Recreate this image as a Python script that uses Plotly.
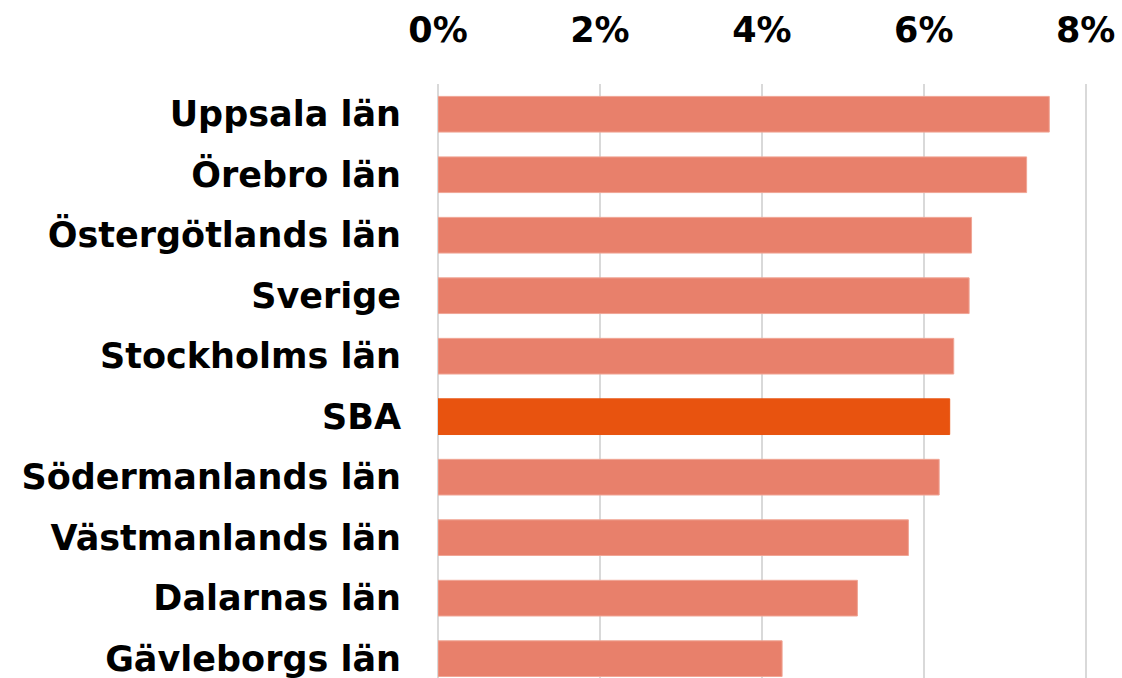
import plotly.graph_objects as go

categories = ["Uppsala län", "Örebro län", "Östergötlands län", "Sverige",
              "Stockholms län", "SBA", "Södermanlands län", "Västmanlands län",
              "Dalarnas län", "Gävleborgs län"]
values = [7.55, 7.27, 6.59, 6.56, 6.37, 6.32, 6.19, 5.81, 5.18, 4.25]
tick_vals = [0, 2, 4, 6, 8]
tick_text = ["0%", "2%", "4%", "6%", "8%"]
highlight = "SBA"

colors = ["#E8530F" if c == highlight else "#E8806B" for c in categories]
line_colors = ["#E8530F" if c == highlight else "#F0A595" for c in categories]

fig = go.Figure(go.Bar(
    x=values, y=categories, orientation="h",
    marker=dict(color=colors, line=dict(color=line_colors, width=1)),
    hoverinfo="skip",
))

FONT = "DejaVu Sans"
fig.update_layout(
    width=1122, height=678,
    margin=dict(l=438, r=12, t=84, b=0, autoexpand=False),
    paper_bgcolor="white", plot_bgcolor="white",
    bargap=0.41,
    showlegend=False,
)
fig.update_xaxes(
    side="top", range=[0, 8.3],
    tickvals=tick_vals, ticktext=tick_text,
    tickfont=dict(family=FONT, size=35, color="black", weight="bold"),
    showgrid=True, gridcolor="#d9d9d9", gridwidth=2,
    zeroline=True, zerolinecolor="#d9d9d9", zerolinewidth=2,
    showline=False, ticks="", ticklabelstandoff=34,
)
fig.update_yaxes(
    categoryorder="array", categoryarray=categories,
    range=[9.32, -0.5],
    tickfont=dict(family=FONT, size=35, color="black", weight="bold"),
    showgrid=False, zeroline=False, showline=False, ticks="",
    ticklabelstandoff=36,
)
fig.write_html("out.html", config={"displayModeBar": False},
               post_script="document.body.style.margin='0';")
